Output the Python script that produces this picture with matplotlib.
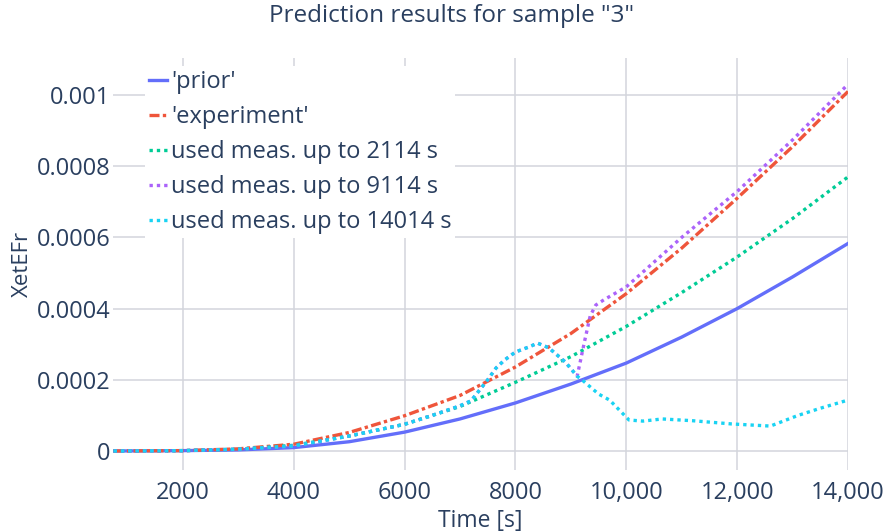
import matplotlib
matplotlib.use('Agg')
import matplotlib.pyplot as plt
from matplotlib.ticker import FuncFormatter

plt.rcParams['font.family'] = ['Open Sans', 'DejaVu Sans']

# time grid and curves
t_main = [750, 2000, 3000, 4000, 5000, 6000, 7000, 8000, 9000, 10000,
          11000, 12000, 13000, 14000]
prior = [0, 0.000001, 0.000003, 0.0000095, 0.000026, 0.000053, 0.00009,
         0.000135, 0.000188, 0.000247, 0.00032, 0.00040, 0.000489, 0.000583]
experiment = [0, 0.000001, 0.000006, 0.000019, 0.000052, 0.000099, 0.000156,
              0.000236, 0.00033, 0.000442, 0.00057, 0.00071, 0.000855, 0.00101]
meas_2114 = [0, 0.000001, 0.000005, 0.000016, 0.000042, 0.000075, 0.000125,
             0.000193, 0.000265, 0.00035, 0.000445, 0.000545, 0.000653, 0.00077]

t_14014 = [750, 2000, 3000, 4000, 5000, 6000, 6500, 7000, 7200, 7500, 7650,
           7800, 8000, 8240, 8400, 8600, 8900, 9114, 9200, 9500, 9700,
           10050, 10300, 10650, 11200, 11900, 12600, 13100, 13500, 14000]
meas_14014 = [0, 0.000001, 0.000005, 0.000014, 0.000042, 0.000075, 0.0001,
              0.000127, 0.000141, 0.0002, 0.000233, 0.000255, 0.000278,
              0.000292, 0.000303, 0.00029, 0.00025, 0.00021, 0.0002, 0.00016,
              0.000143, 0.000087, 0.000084, 0.00009, 0.000085, 0.000076,
              0.00007, 0.0001, 0.00012, 0.000143]

t_9114 = [750, 2000, 3000, 4000, 5000, 6000, 6500, 7000, 7200, 7500, 7650,
          7800, 8000, 8240, 8400, 8600, 8900, 9114, 9250, 9350, 9450, 9600,
          10000, 11000, 12000, 13000, 14000]
meas_9114 = [0, 0.000001, 0.000005, 0.000014, 0.000042, 0.000075, 0.0001,
             0.000127, 0.000141, 0.0002, 0.000233, 0.000255, 0.000278,
             0.000292, 0.000303, 0.00029, 0.00025, 0.00021, 0.00031, 0.00038,
             0.00041, 0.000425, 0.000461, 0.0006, 0.000729, 0.000874, 0.00103]

text_color = '#2a3f5f'
grid_color = '#d3d5dc'

fig = plt.figure(figsize=(8.88, 5.32), dpi=100)
ax = fig.add_axes([113 / 888, 62 / 532, 735 / 888, 412 / 532])

lw = 2.4
ax.plot(t_main, prior, color='#636efa', lw=lw, label="'prior'")
ax.plot(t_main, experiment, color='#EF553B', lw=lw, dashes=(3, 1, 1, 1),
        dash_capstyle='butt', label="'experiment'")
ax.plot(t_main, meas_2114, color='#00cc96', lw=lw, dashes=(1, 1.2),
        dash_capstyle='butt', label='used meas. up to 2114 s')
ax.plot(t_9114, meas_9114, color='#ab63fa', lw=lw, dashes=(1, 1.2),
        dash_capstyle='butt', label='used meas. up to 9114 s')
ax.plot(t_14014, meas_14014, color='#19d3f3', lw=lw, dashes=(1, 1.2),
        dash_capstyle='butt', label='used meas. up to 14014 s')

ax.set_xlim(740, 14000)
ax.set_ylim(-0.0000534, 0.001104)
ax.set_xticks([2000, 4000, 6000, 8000, 10000, 12000, 14000])
ax.set_yticks([0, 0.0002, 0.0004, 0.0006, 0.0008, 0.001])


def fmt_x(v, pos):
    v = int(round(v))
    return f'{v:,}' if v >= 10000 else str(v)


def fmt_y(v, pos):
    if abs(v) < 1e-12:
        return '0'
    return f'{v:.4f}'.rstrip('0')


ax.xaxis.set_major_formatter(FuncFormatter(fmt_x))
ax.yaxis.set_major_formatter(FuncFormatter(fmt_y))
ax.grid(True, color=grid_color, lw=1.1)
ax.set_axisbelow(True)
for s in ax.spines.values():
    s.set_visible(False)
ax.tick_params(length=0, labelsize=17, labelcolor=text_color)
ax.tick_params(axis='x', pad=8)
ax.tick_params(axis='y', pad=2)

ax.set_xlabel('Time [s]', fontsize=16.5, color=text_color, va='center')
ax.xaxis.set_label_coords(0.5, -51 / 412)
ax.set_ylabel('XetEFr', fontsize=16, color=text_color)
ax.yaxis.set_label_coords(-80 / 735, 0.5)
fig.text(452 / 888, 1 - 16 / 532, 'Prediction results for sample "3"',
         ha='center', va='center', fontsize=17.5, color=text_color)

leg = ax.legend(loc='upper left', bbox_to_anchor=(0.0435, 0.98),
                borderaxespad=0, borderpad=0.15, handlelength=0.8,
                handletextpad=0.15, labelspacing=0.47, fontsize=17,
                frameon=True, fancybox=False, framealpha=1)
leg.get_frame().set_edgecolor('none')
for txt in leg.get_texts():
    txt.set_color(text_color)

fig.savefig('out.png', dpi=100)
